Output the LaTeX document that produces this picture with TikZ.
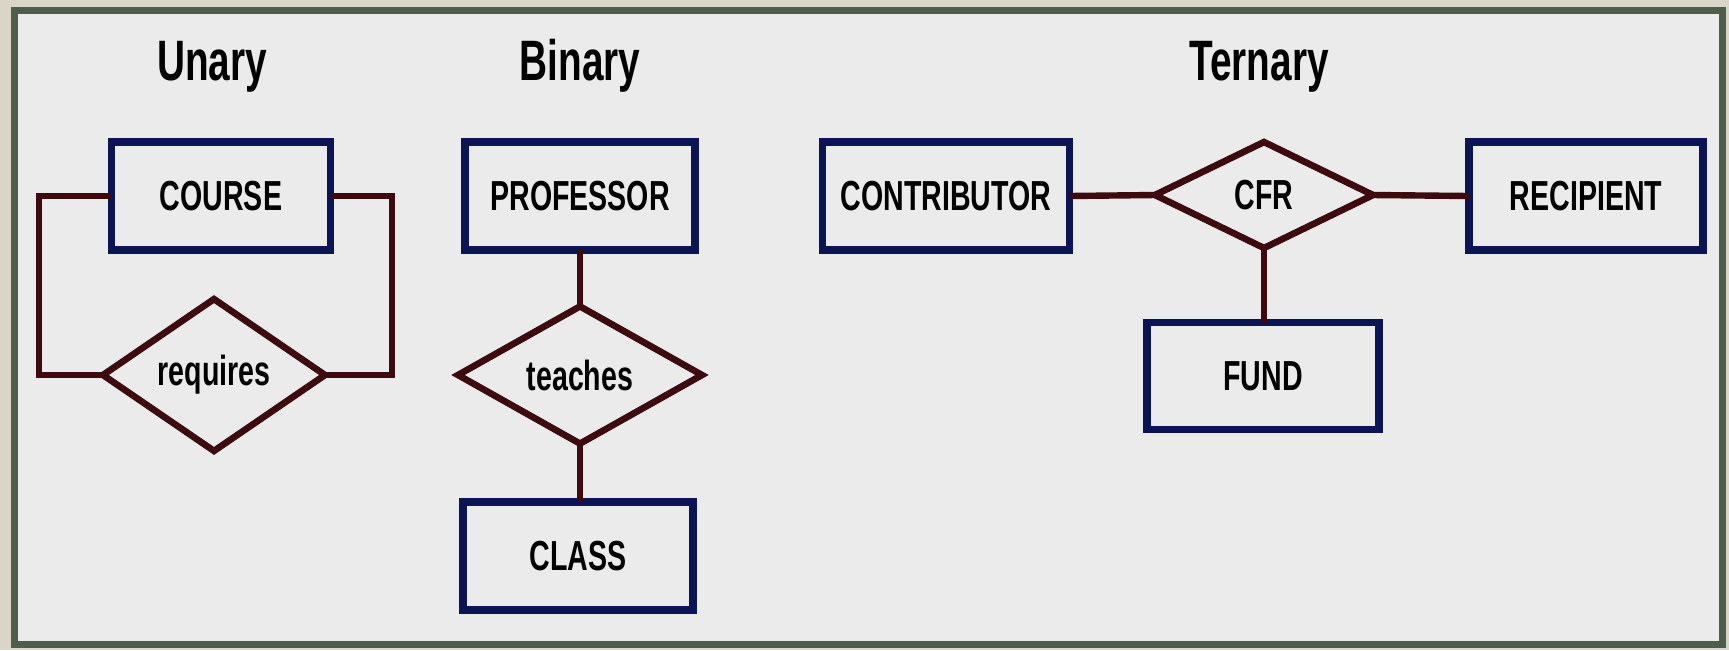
\documentclass[tikz,border=0pt]{standalone}
\usepackage{fontspec}
\setmainfont{Liberation Sans}[FakeStretch=0.68]
\usetikzlibrary{shapes.geometric}

\definecolor{pagebeige}{HTML}{D9D5C7}
\definecolor{framegreen}{HTML}{4F5E4C}
\definecolor{panelgray}{HTML}{EBEBEB}
\definecolor{entitynavy}{HTML}{0B1553}
\definecolor{relmaroon}{HTML}{3D0A0F}

\tikzset{
  entity/.style={draw=entitynavy, line width=3.8pt, fill=panelgray,
    inner sep=0pt, outer sep=0pt, text=black,
    font=\bfseries\fontsize{21}{21}\selectfont},
  relation/.style={shape=diamond, draw=relmaroon, line width=3.3pt, fill=panelgray,
    inner sep=0pt, outer sep=0pt, text=black,
    font=\bfseries\fontsize{21}{21}\selectfont},
  link/.style={draw=relmaroon, line width=3.2pt},
  heading/.style={anchor=base, inner sep=0pt, text=black,
    font=\bfseries\fontsize{28.5}{28.5}\selectfont},
}

\begin{document}
\begin{tikzpicture}[x=0.5pt, y=-0.5pt]
  \useasboundingbox (0,0) rectangle (1729,650);
  % page and framed panel
  \fill[pagebeige] (0,0) rectangle (1729,650);
  \draw[framegreen, line width=3.5pt, fill=panelgray] (14,10) rectangle (1722,644);

  % section headings
  \node[heading] (hunary)   at (212,80)  {Unary};
  \node[heading] (hbinary)  at (580,80)  {Binary};
  \node[heading] (hternary) at (1259,80) {Ternary};

  % unary relationship
  \node[entity, minimum width=109.5pt, minimum height=54pt] (course) at (221,196) {COURSE};
  \node[relation, minimum width=111pt, minimum height=57pt] (requires) at (214,375) {requires};
  \coordinate (loopL) at (39,375);
  \coordinate (loopR) at (392,375);
  \draw[link] (course.west) -| (loopL) -- (requires.west);
  \draw[link] (course.east) -| (loopR) -- (requires.east);

  % binary relationship
  \node[entity, minimum width=115pt, minimum height=54pt] (professor) at (580,196) {PROFESSOR};
  \node[relation, minimum width=122pt, minimum height=53.5pt] (teaches) at (580,375) {teaches};
  \node[entity, minimum width=115pt, minimum height=54pt] (class) at (578,556) {CLASS};
  \draw[link] (professor.south) -- (teaches.north);
  \draw[link] (teaches.south) -- (teaches.south |- class.north);

  % ternary relationship
  \node[entity, minimum width=123.5pt, minimum height=54pt] (contributor) at (946,196) {CONTRIBUTOR};
  \node[relation, minimum width=109pt, minimum height=53pt] (cfr) at (1264,195) {CFR};
  \node[entity, minimum width=117pt, minimum height=54pt] (recipient) at (1586,196) {RECIPIENT};
  \node[entity, minimum width=116pt, minimum height=53.5pt] (fund) at (1263,376) {FUND};
  \draw[link] (contributor.east) -- (cfr.west);
  \draw[link] (cfr.east) -- (recipient.west);
  \draw[link] (cfr.south) -- (cfr.south |- fund.north);
\end{tikzpicture}
\end{document}
